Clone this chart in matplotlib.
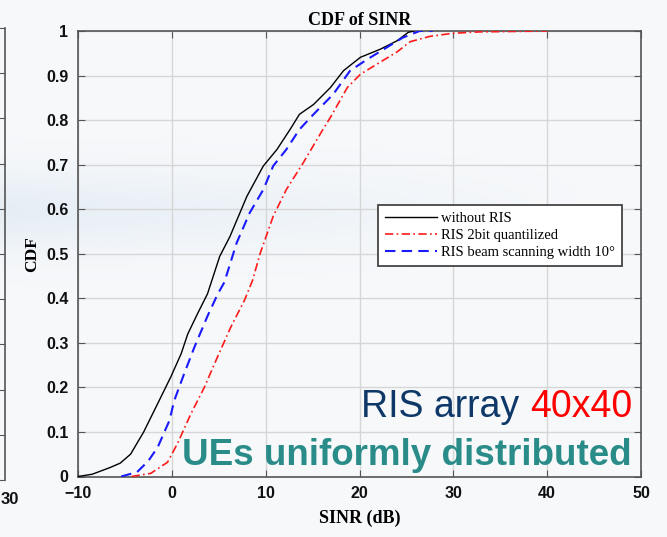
import numpy as np
import matplotlib
matplotlib.use("Agg")
import matplotlib.pyplot as plt

# ---- data ----
x_black = [-10, -8.5, -6.6, -5.5, -4.4, -3.0, -1.5, -0.1, 1.0, 1.7, 2.75, 3.8, 5.1, 6.2, 8.0,
           9.75, 11.2, 12.6, 13.6, 15.1, 16.9, 18.3, 20.1, 22.2, 24.0, 25.2, 25.8]
y_black = [0, 0.005, 0.02, 0.03, 0.05, 0.10, 0.164, 0.224, 0.276, 0.32, 0.366, 0.41, 0.494, 0.539, 0.629,
           0.697, 0.734, 0.779, 0.813, 0.835, 0.873, 0.911, 0.941, 0.959, 0.978, 0.997, 1.0]

x_red = [-4.3, -2.25, -0.46, 0.6, 2.04, 3.46, 4.9, 6.3, 7.75, 8.6, 9.4, 10.8, 12.2, 14.0, 16.1,
         16.9, 18.7, 20.1, 22.2, 24.0, 25.4, 27.5, 30, 32.8, 40]
y_red = [0, 0.007, 0.032, 0.074, 0.141, 0.2, 0.27, 0.336, 0.396, 0.44, 0.5, 0.584, 0.644, 0.704, 0.779,
         0.806, 0.873, 0.903, 0.93, 0.953, 0.976, 0.988, 0.995, 0.998, 1.0]

x_blue = [-5.4, -3.7, -2.5, -1.5, -0.25, 0.25, 1.3, 2.4, 3.8, 4.9, 5.6, 6.9, 8.3, 9.75, 10.8,
          12.2, 13.6, 15.1, 17.2, 19.0, 20.8, 22.9, 24.6, 26.4, 27.8]
y_blue = [0, 0.01, 0.035, 0.066, 0.126, 0.17, 0.23, 0.29, 0.36, 0.41, 0.436, 0.524, 0.592, 0.644, 0.697,
          0.734, 0.779, 0.813, 0.858, 0.911, 0.936, 0.963, 0.985, 1.0, 1.0]

labels = ["without RIS", "RIS 2bit quantilized", "RIS beam scanning width 10°"]
x_ticks = [-10, 0, 10, 20, 30, 40, 50]
y_ticks = [0, 0.1, 0.2, 0.3, 0.4, 0.5, 0.6, 0.7, 0.8, 0.9, 1]
y_ticklabels = ["0", "0.1", "0.2", "0.3", "0.4", "0.5", "0.6", "0.7", "0.8", "0.9", "1"]

W, H = 667, 537
fig = plt.figure(figsize=(W / 100, H / 100), dpi=100)

# ---- background (slide look) ----
bg = fig.add_axes([0, 0, 1, 1], zorder=-10)
yy, xx = np.mgrid[0:H, 0:W]
band = np.exp(-((yy - 210) / 40.0) ** 2) * np.clip(1.0 - xx / 600.0, 0, 1) * 0.6
base = np.array([0.968, 0.974, 0.982])
blue = np.array([0.86, 0.91, 0.95])
img = base[None, None, :] * (1 - band[..., None]) + blue[None, None, :] * band[..., None]
bg.imshow(img, aspect="auto", extent=[0, 1, 0, 1])
bg.axis("off")

# ---- partial axes at left edge ----
lx = fig.add_axes([-0.5, (H - 480) / H, 0.5 + 5 / W, (480 - 28) / H])
lx.set_facecolor("none")
for s in ["top", "bottom", "left"]:
    lx.spines[s].set_visible(False)
lx.spines["right"].set_color("#555555")
lx.spines["right"].set_linewidth(1.2)
lx.set_xticks([])
lx.set_ylim(0, 1)
lx.yaxis.tick_right()
lx.set_yticks(np.linspace(0, 1, 11))
lx.tick_params(axis="y", direction="in", length=5, color="#555555", labelright=False)
fig.text(0.5 / W, 1 - 500 / H, "30", fontsize=12, fontweight="bold", family="Liberation Sans",
         ha="left", va="center", color="#111111")

# ---- main axes ----
ax = fig.add_axes([78 / W, (H - 476.5) / H, (641 - 78) / W, (476.5 - 31) / H])
ax.set_facecolor("none")

ax.plot(x_black, y_black, color="black", lw=1.0, label=labels[0], zorder=3)
ax.plot(x_red, y_red, color="#ff1a1a", lw=1.2, linestyle=(0, (5, 2, 1, 2)), label=labels[1], zorder=3)
ax.plot(x_blue, y_blue, color="#1a1aff", lw=1.5, linestyle=(0, (5, 3)), label=labels[2], zorder=3)

ax.set_xlim(-10, 50)
ax.set_ylim(0, 1)
ax.set_xticks(x_ticks)
ax.set_yticks(y_ticks)
ax.set_yticklabels(y_ticklabels)
ax.grid(True, color="#d6d6d6", lw=1.0)
ax.set_axisbelow(True)
ax.tick_params(direction="in", top=True, right=True, length=5, color="#555555",
               labelsize=11.5, pad=7)
for lab in ax.get_xticklabels() + ax.get_yticklabels():
    lab.set_fontweight("bold")
    lab.set_family("Liberation Sans")
    lab.set_color("#111111")
for s in ax.spines.values():
    s.set_color("#555555")
    s.set_linewidth(1.2)

ax.set_title("CDF of SINR", fontsize=13, fontweight="bold", family="Liberation Serif", pad=4)
ax.set_xlabel("SINR (dB)", fontsize=13, fontweight="bold", family="Liberation Serif", labelpad=6)
ax.set_ylabel("CDF", fontsize=12.5, fontweight="bold", family="Liberation Serif", labelpad=4)

leg = ax.legend(loc="upper left", bbox_to_anchor=((378 - 78) / 563, (476.5 - 205) / 445.5),
                prop={"family": "Liberation Serif", "size": 10.5}, frameon=True, fancybox=False,
                framealpha=1, edgecolor="#444444", handlelength=3.6, labelspacing=0.28,
                borderpad=0.45, handletextpad=0.3, borderaxespad=0)
leg.get_frame().set_linewidth(1.3)

# ---- slide annotations ----
t40 = fig.text(632 / W, 1 - 417 / H, "40x40", fontsize=27, family="Liberation Sans",
               color="#ff0000", ha="right", va="baseline")
ax.annotate("RIS array ", xy=(0, 0), xycoords=t40, ha="right", va="bottom",
            fontsize=27, family="Liberation Sans", color="#0d3868", annotation_clip=False)
fig.text(632 / W, 1 - 465 / H, "UEs uniformly distributed", fontsize=26.5, fontweight="bold",
         family="Liberation Sans", color="#2a8c88", ha="right", va="baseline")

fig.savefig("out.png", dpi=100)
